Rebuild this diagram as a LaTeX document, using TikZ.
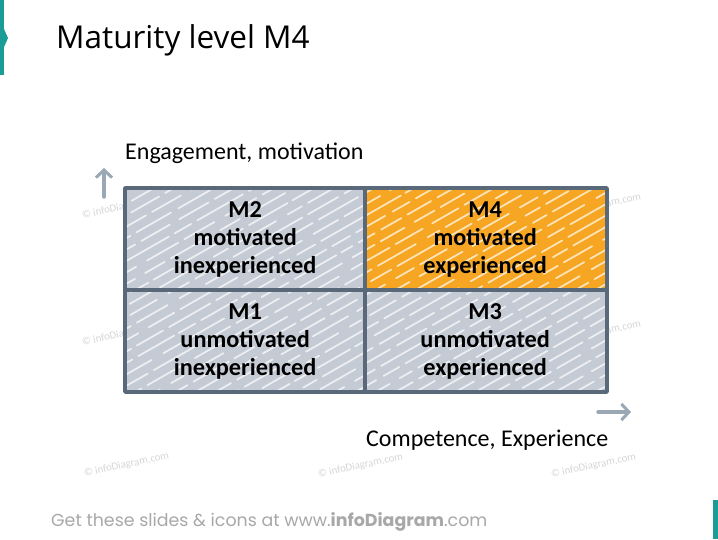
\documentclass[tikz,border=0pt]{standalone}
\usepackage{fontspec}
\setmainfont{Carlito}
\newfontfamily\titlefont{Open Sans}
\newfontfamily\footfont{Poppins}
\usetikzlibrary{arrows.meta}
\definecolor{tealbar}{HTML}{1C9C97}
\definecolor{cellgray}{HTML}{C5CBD4}
\definecolor{cellorange}{HTML}{F6A623}
\definecolor{frame}{HTML}{5A6979}
\definecolor{axisgray}{HTML}{9AA7B5}
\definecolor{footgray}{HTML}{A8A8A8}
\definecolor{wmgray}{HTML}{D6D6D6}
\tikzset{
  cellbox/.style={minimum width=240pt, minimum height=102pt, inner sep=0pt, anchor=north west,
    align=center, font=\fontsize{24.3}{28}\selectfont\bfseries, text=black},
  frameline/.style={draw=frame, line width=3.8pt, line join=round, line cap=round},
  axisarrow/.style={draw=axisgray, line width=3.4pt, line cap=round, -{Straight Barb[length=7.5pt,width=16pt,line width=3pt]}},
  wm/.style={text=wmgray, font=\fontsize{10.8}{12}\selectfont, rotate=12, anchor=west, inner sep=0pt},
  hatch/.style={draw=white, line width=1.7pt, opacity=0.7, line cap=round}
}
\newcommand{\hatchcell}[5]{%
  \fill[#5] (#1,#2) rectangle (#3,#4);
  \begin{scope}
    \clip (#1,#2) rectangle (#3,#4);
    \foreach \k in {-12,...,24}{
      \pgfmathsetmacro\da{25+30*rnd}
      \pgfmathsetmacro\db{5+9*rnd}
      \pgfmathsetmacro\dc{12+25*rnd}
      \pgfmathsetmacro\ph{70*rnd}
      \draw[hatch, dash pattern=on \da pt off \db pt on \dc pt off 7pt, dash phase=\ph pt]
        ({#1+\k*20},{#4+6}) -- ({#1+\k*20+420},{#4+6-240});
    }
  \end{scope}}
\begin{document}
\begin{tikzpicture}[x=1pt,y=-1pt]
\pgfmathsetseed{7}
\useasboundingbox[fill=white] (0,0) rectangle (718,539);
% teal bars
\fill[tealbar] (0,0) rectangle (4,75);
\fill[tealbar] (0,29) -- (4,29) -- (8,38) -- (4,47) -- (0,47) -- cycle;
\fill[tealbar] (713,500) rectangle (718,539);
% title
\node[anchor=west, font=\titlefont\fontsize{31.5}{34}\selectfont, inner sep=0pt] (title) at (56,40) {Maturity level M4};
% watermarks
\node[wm] (w1) at (82,216) {© infoDiagram.com};
\node[wm] (w2) at (82,343) {© infoDiagram.com};
\node[wm] (w3) at (556,215) {© infoDiagram.com};
\node[wm] (w4) at (556,342) {© infoDiagram.com};
\node[wm] (w5) at (84,474) {© infoDiagram.com};
\node[wm] (w6) at (318,475) {© infoDiagram.com};
\node[wm] (w7) at (551,475) {© infoDiagram.com};
% cells
\hatchcell{125}{188}{365}{290}{cellgray}
\hatchcell{365}{188}{607}{290}{cellorange}
\hatchcell{125}{290}{365}{392}{cellgray}
\hatchcell{365}{290}{607}{392}{cellgray}
\node[cellbox] (m2) at (125,188) {M2\\motivated\\inexperienced};
\node[cellbox] (m4) at (365,188) {M4\\motivated\\experienced};
\node[cellbox] (m1) at (125,290) {M1\\unmotivated\\inexperienced};
\node[cellbox] (m3) at (365,290) {M3\\unmotivated\\experienced};
% frame
\draw[frameline] (125,188) rectangle (607,392);
\draw[frameline] (365,188) -- (365,392);
\draw[frameline] (125,290) -- (607,290);
% axes
\coordinate (ya) at (104,197);
\coordinate (yb) at (104,168);
\coordinate (xa) at (598,412);
\coordinate (xb) at (631,412);
\draw[axisarrow] (ya) -- (yb);
\draw[axisarrow] (xa) -- (xb);
\node[anchor=west, font=\fontsize{24}{26}\selectfont, inner sep=0pt] (ylab) at (125,153) {Engagement, motivation};
\node[anchor=west, font=\fontsize{24}{26}\selectfont, inner sep=0pt] (xlab) at (366,440) {Competence, Experience};
% footer
\node[anchor=west, font=\footfont\fontsize{17.4}{20}\selectfont, text=footgray, inner sep=0pt] (foot) at (51,522) {Get these slides \& icons at www.\textbf{infoDiagram}.com};
\end{tikzpicture}
\end{document}
